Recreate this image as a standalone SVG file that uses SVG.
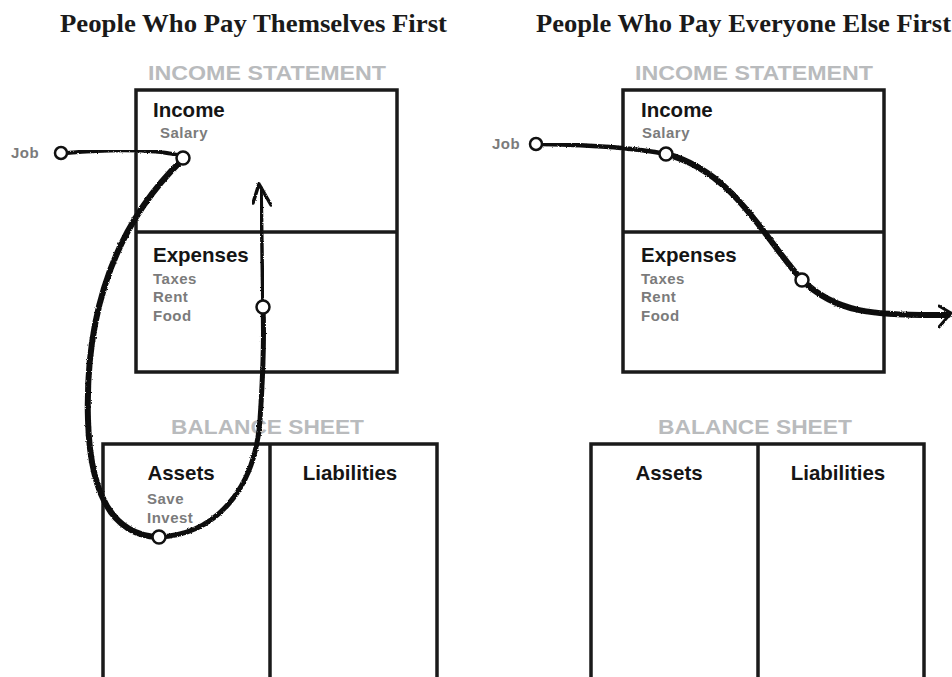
<svg xmlns="http://www.w3.org/2000/svg" width="952" height="677" viewBox="0 0 952 677">
<defs>
<style>
.title{font-family:"Liberation Serif","Times New Roman",serif;font-weight:bold;font-size:25px;fill:#1a1a1a}
.head{font-family:"Liberation Sans",Arial,sans-serif;font-weight:bold;font-size:20px;fill:#b9bbbd}
.lbl{font-family:"Liberation Sans",Arial,sans-serif;font-weight:bold;font-size:20.5px;fill:#151515}
.sub{font-family:"Liberation Sans",Arial,sans-serif;font-weight:bold;font-size:15px;letter-spacing:0.5px;fill:#7b7b7b}
.box{fill:none;stroke:#1a1a1a;stroke-width:3.5}
.ink{fill:none;stroke:#111;stroke-linecap:round;stroke-linejoin:round;filter:url(#rough)}
.dot{fill:#fff;stroke:#111;stroke-width:2.5}
</style>
<filter id="rough" x="-5%" y="-5%" width="110%" height="110%">
  <feTurbulence type="fractalNoise" baseFrequency="0.8" numOctaves="2" seed="3" result="n"/>
  <feDisplacementMap in="SourceGraphic" in2="n" scale="2.5" xChannelSelector="R" yChannelSelector="G"/>
</filter>
</defs>
<rect width="952" height="677" fill="#fff"/>

<g id="left-panel">
  <text class="title" x="60" y="32" textLength="387" lengthAdjust="spacingAndGlyphs">People Who Pay Themselves First</text>
  <g id="left-income-statement">
    <text class="head" x="148" y="80" textLength="238" lengthAdjust="spacingAndGlyphs">INCOME STATEMENT</text>
    <rect class="box" x="136" y="90" width="261" height="282"/>
    <line class="box" x1="136" y1="232" x2="397" y2="232"/>
  </g>
  <g id="left-income">
    <text class="lbl" x="153" y="117">Income</text>
    <text class="sub" x="160" y="138">Salary</text>
  </g>
  <g id="left-expenses">
    <text class="lbl" x="153" y="262">Expenses</text>
    <text class="sub" x="153" y="284">Taxes</text>
    <text class="sub" x="153" y="302">Rent</text>
    <text class="sub" x="153" y="321">Food</text>
  </g>
  <g id="left-balance-sheet">
    <text class="head" x="171" y="434" textLength="193" lengthAdjust="spacingAndGlyphs">BALANCE SHEET</text>
    <rect class="box" x="103" y="444" width="334" height="240"/>
    <line class="box" x1="270" y1="444" x2="270" y2="680"/>
  </g>
  <g id="left-assets">
    <text class="lbl" x="181" y="480" text-anchor="middle">Assets</text>
    <text class="sub" x="147" y="504">Save</text>
    <text class="sub" x="147" y="523">Invest</text>
  </g>
  <g id="left-liabilities">
    <text class="lbl" x="350" y="480" text-anchor="middle">Liabilities</text>
  </g>
  <g id="left-job">
    <text class="sub" x="11" y="158">Job</text>
  </g>
</g>

<g id="right-panel">
  <text class="title" x="536" y="32" textLength="415" lengthAdjust="spacingAndGlyphs">People Who Pay Everyone Else First</text>
  <g id="right-income-statement">
    <text class="head" x="635" y="80" textLength="238" lengthAdjust="spacingAndGlyphs">INCOME STATEMENT</text>
    <rect class="box" x="623" y="90" width="261" height="282"/>
    <line class="box" x1="623" y1="232" x2="884" y2="232"/>
  </g>
  <g id="right-income">
    <text class="lbl" x="641" y="117">Income</text>
    <text class="sub" x="642" y="138">Salary</text>
  </g>
  <g id="right-expenses">
    <text class="lbl" x="641" y="262">Expenses</text>
    <text class="sub" x="641" y="284">Taxes</text>
    <text class="sub" x="641" y="302">Rent</text>
    <text class="sub" x="641" y="321">Food</text>
  </g>
  <g id="right-balance-sheet">
    <text class="head" x="658" y="434" textLength="194" lengthAdjust="spacingAndGlyphs">BALANCE SHEET</text>
    <rect class="box" x="591" y="444" width="333" height="240"/>
    <line class="box" x1="758" y1="444" x2="758" y2="680"/>
  </g>
  <g id="right-assets">
    <text class="lbl" x="669" y="480" text-anchor="middle">Assets</text>
  </g>
  <g id="right-liabilities">
    <text class="lbl" x="838" y="480" text-anchor="middle">Liabilities</text>
  </g>
  <g id="right-job">
    <text class="sub" x="492" y="149">Job</text>
  </g>
</g>

<g id="connectors">
  <!-- left flow -->
  <path class="ink" stroke-width="4" d="M67,153 C100,150 150,148 177,155"/>
  <path class="ink" stroke-width="6" d="M182,160 C110,230 85,320 88,420 C90,490 110,535 158,537"/>
  <path class="ink" stroke-width="5" d="M158,537 C215,535 255,490 260,420 C264,360 264,330 263,307"/>
  <path class="ink" stroke-width="3.5" d="M263,307 C262,270 262,230 261,188"/>
  <polyline class="ink" stroke-width="3.5" points="253,203 259,184 271,205"/>
  <circle class="dot" cx="61" cy="153" r="6"/>
  <circle class="dot" cx="183" cy="158" r="6.5"/>
  <circle class="dot" cx="159" cy="537" r="6.5"/>
  <circle class="dot" cx="263" cy="307" r="6.5"/>
  <!-- right flow -->
  <path class="ink" stroke-width="4.5" d="M542,144 C590,145 630,147 666,154"/>
  <path class="ink" stroke-width="6" d="M666,154 C735,172 765,240 802,280 C835,312 870,316 948,315"/>
  <polyline class="ink" stroke-width="3" points="939,306 951,313 939,327"/>
  <circle class="dot" cx="536" cy="144" r="6"/>
  <circle class="dot" cx="666" cy="154" r="6.5"/>
  <circle class="dot" cx="802" cy="280" r="6.5"/>
</g>
</svg>
